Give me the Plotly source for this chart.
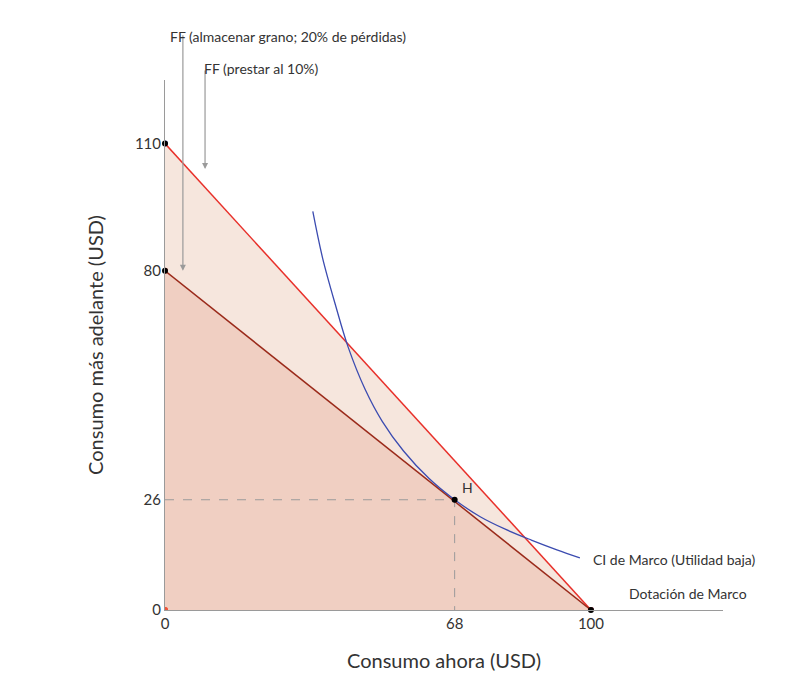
import plotly.graph_objects as go

# budget lines
ff_store_x = [0, 100]
ff_store_y = [80, 0]
ff_lend_x = [0, 100]
ff_lend_y = [110, 0]

# indifference curve
ic_x = [34.7, 37, 40, 43, 47, 51, 56, 62, 68, 74, 80, 86, 92, 97.4]
ic_y = [94, 83, 72, 62, 52, 44.5, 37.5, 31, 26, 22, 19, 16.5, 14.2, 12.3]

point_x = [0, 0, 68, 100]
point_y = [110, 80, 26, 0]

x_ticks = [0, 68, 100]
y_ticks = [0, 26, 80, 110]

font = "Lato"
grey = "#9a9a9a"

fig = go.Figure()

# shaded regions
fig.add_trace(go.Scatter(x=[0, 0, 100, 0], y=[0, 110, 0, 0], fill="toself",
                         fillcolor="#f6e6dd", line=dict(width=0), hoverinfo="skip"))
fig.add_trace(go.Scatter(x=[0, 0, 100, 0], y=[0, 80, 0, 0], fill="toself",
                         fillcolor="#f0cfc2", line=dict(width=0), hoverinfo="skip"))

# dashed guides to H
fig.add_trace(go.Scatter(x=[0, 68, 68], y=[26, 26, 0], mode="lines",
                         line=dict(color=grey, width=1, dash="dash")))

fig.add_trace(go.Scatter(x=ff_lend_x, y=ff_lend_y, mode="lines",
                         line=dict(color="#e8302a", width=1.5)))
fig.add_trace(go.Scatter(x=ff_store_x, y=ff_store_y, mode="lines",
                         line=dict(color="#9a2a1a", width=1.5)))
fig.add_trace(go.Scatter(x=ic_x, y=ic_y, mode="lines", line_shape="spline",
                         line=dict(color="#3b4bb0", width=1.3)))
fig.add_trace(go.Scatter(x=point_x, y=point_y, mode="markers", cliponaxis=False,
                         marker=dict(color="black", size=6)))

# arrows
fig.add_annotation(x=4.2, y=80, ax=4.2, ay=-237, axref="x", ayref="pixel",
                   showarrow=True, arrowhead=2, arrowsize=1, arrowwidth=1.2,
                   arrowcolor=grey, text="")
fig.add_annotation(x=9.4, y=104, ax=9.4, ay=-100, axref="x", ayref="pixel",
                   showarrow=True, arrowhead=2, arrowsize=1, arrowwidth=1.2,
                   arrowcolor=grey, text="")

fig.add_annotation(x=0.7, y=1.102, yref="paper", text="FF (almacenar grano; 20% de pérdidas)",
                   xanchor="left", showarrow=False, font=dict(size=14, color="#333"))
fig.add_annotation(x=8.7, y=1.042, yref="paper", text="FF (prestar al 10%)",
                   xanchor="left", showarrow=False, font=dict(size=14, color="#333"))
fig.add_annotation(x=71, y=26.5, text="H", xanchor="center", yanchor="bottom",
                   showarrow=False, font=dict(size=14, color="#333"))
fig.add_annotation(x=100, y=12, text="CI de Marco (Utilidad baja)", xanchor="left",
                   showarrow=False, font=dict(size=14, color="#333"))
fig.add_annotation(x=108.5, y=4, text="Dotación de Marco", xanchor="left",
                   showarrow=False, font=dict(size=14, color="#333"))

fig.update_layout(
    width=810, height=692, showlegend=False,
    plot_bgcolor="white", paper_bgcolor="white",
    margin=dict(l=157, r=95, t=72, b=90, autoexpand=False),
    font=dict(family=font, size=15, color="#333"),
    xaxis=dict(range=[0, 131], tickvals=x_ticks, showgrid=False, zeroline=False,
               showline=True, linecolor=grey, ticks="", automargin=False,
               title=dict(text="Consumo ahora (USD)", font=dict(size=20), standoff=22)),
    yaxis=dict(range=[0, 125], tickvals=y_ticks, showgrid=False, zeroline=False,
               showline=True, linecolor=grey, ticks="", automargin=False,
               title=dict(text="Consumo más adelante (USD)", font=dict(size=20), standoff=25)),
)

fig.write_html("out.html")
